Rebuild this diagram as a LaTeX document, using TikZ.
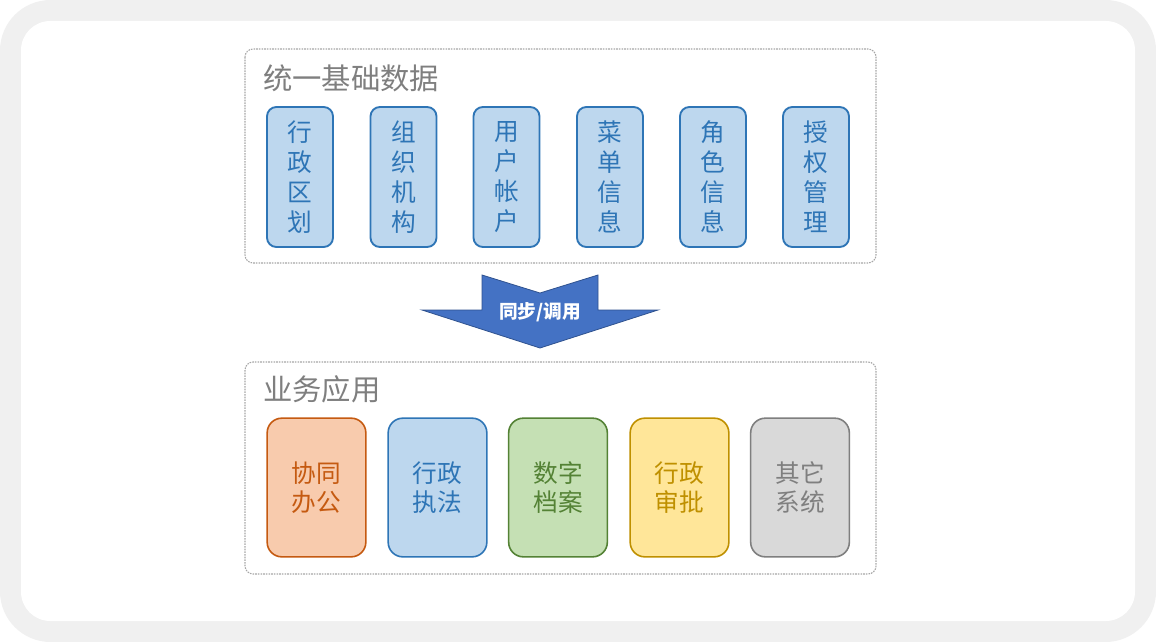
\documentclass[tikz,border=0pt]{standalone}
\usepackage{fontspec}
\setmainfont{Noto Sans CJK SC}
\usepackage{tikz}
\tikzset{>=latex}
\usetikzlibrary{calc}
\definecolor{frame}{HTML}{F0F0F0}
\definecolor{groupline}{HTML}{A6A6A6}
\definecolor{titlegrey}{HTML}{7F7F7F}
\definecolor{datafill}{HTML}{BDD7EE}
\definecolor{dataline}{HTML}{2E75B6}
\definecolor{arrowfill}{HTML}{4472C4}
\definecolor{arrowline}{HTML}{2F528F}
\tikzset{
    group/.style={draw=groupline, line width=0.8pt, dash pattern=on 1.2pt off 0.8pt, rounded corners=6pt},
    grouptitle/.style={anchor=west, text=titlegrey, font=\fontsize{22}{26}\selectfont, inner sep=0pt},
    databox/.style={draw=dataline, fill=datafill, text=dataline, line width=1.4pt, rounded corners=7pt,
        minimum width=49.5pt, minimum height=105pt, align=center, inner sep=0pt,
        font=\fontsize{18.5}{22.5}\selectfont},
    appbox/.style={draw=#1line, fill=#1fill, text=#1line, line width=1.2pt, rounded corners=11pt,
        minimum width=74pt, minimum height=104pt, align=center, inner sep=0pt,
        font=\fontsize{18.5}{21.5}\selectfont}
}
\definecolor{orangefill}{HTML}{F8CBAD}
\definecolor{orangeline}{HTML}{C55A11}
\definecolor{bluefill}{HTML}{BDD7EE}
\definecolor{blueline}{HTML}{2E75B6}
\definecolor{greenfill}{HTML}{C5E0B4}
\definecolor{greenline}{HTML}{548235}
\definecolor{yellowfill}{HTML}{FFE699}
\definecolor{yellowline}{HTML}{BF9000}
\definecolor{greyfill}{HTML}{D9D9D9}
\definecolor{greyline}{HTML}{7F7F7F}

\begin{document}
\begin{tikzpicture}[x=0.75pt, y=-0.75pt]
                \fill[white] (0, 0) rectangle (1156, 642);
                \fill[frame, rounded corners=38pt] (0, 0) rectangle (1156, 642);
                \fill[white, rounded corners=22pt] (21, 21) rectangle (1135, 621);
                % unified base data
                \draw[group] (245, 49) rectangle (876, 263);
                \node[grouptitle] (basetitle) at (263, 78) {统一基础数据};
                \foreach \i/\x/\txt in {1/300/行\\政\\区\\划, 2/403.5/组\\织\\机\\构, 3/506.5/用\\户\\帐\\户,
                                        4/610/菜\\单\\信\\息, 5/713/角\\色\\信\\息, 6/816/授\\权\\管\\理}
                    \node[databox] (data\i) at (\x, 177) {\txt};
                % sync arrow
                \draw[fill=arrowfill, draw=arrowline, line width=0.6pt]
                    (482, 275) -- (540, 293) -- (598, 275) -- (598, 310) -- (658, 310)
                    -- (540, 348) -- (422, 310) -- (482, 310) -- cycle;
                \node[text=white, font=\fontsize{14}{16}\selectfont\bfseries] (sync) at (540, 312) {同步/调用};
                % business applications
                \draw[group] (245, 362) rectangle (876, 574);
                \node[grouptitle] (apptitle) at (263, 389) {业务应用};
                \foreach \i/\x/\c/\txt in {1/316.5/orange/协同\\办公, 2/437.5/blue/行政\\执法, 3/558/green/数字\\档案,
                                           4/679.5/yellow/行政\\审批, 5/800/grey/其它\\系统}
                    \node[appbox=\c] (app\i) at (\x, 487.5) {\txt};
            \end{tikzpicture}
\end{document}
